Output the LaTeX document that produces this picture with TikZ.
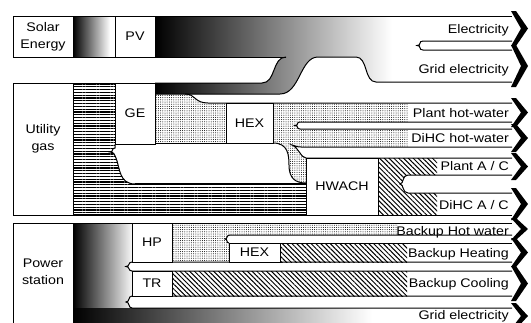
\documentclass[tikz,border=0pt]{standalone}
\usepackage{fontspec}
\setmainfont{Liberation Sans}[FakeStretch=1.14]
\usetikzlibrary{patterns.meta}
\newcommand\chevr[2]{%
  \fill (511,{#1-5}) -- (516,{#1-5}) -- (528,{(#1+#2)/2}) -- (516,{#2+5}) -- (511,{#2+5}) -- (521,{(#1+#2)/2}) -- cycle;}
\begin{document}
\begin{tikzpicture}[x=1pt,y=-1pt,
  txt/.style={font=\fontsize{12.5}{17}\selectfont, inner sep=0pt, align=center},
  box/.style={draw, fill=white, line width=1pt, inner sep=0pt, outer sep=0pt, font=\fontsize{12.5}{17}\selectfont, align=center},
  edge/.style={line width=1pt},
  heavy/.style={line width=1.7pt},
  lbl/.style={font=\fontsize{12.5}{15}\selectfont, inner sep=0pt, anchor=base east},
  stip/.style={pattern={Dots[distance=2.2pt,radius=0.5pt]}},
  hlin/.style={pattern={Lines[angle=0,distance=2.8pt,line width=1.1pt]}},
  dlin/.style={pattern={Lines[angle=-45,distance=3.4pt,line width=1pt]}}
]
\useasboundingbox (0,0) rectangle (531,322);
\fill[white] (0,0) rectangle (531,322);

% ---------- fills ----------
% solar gradient
\shade[left color=black,right color=white] (73,16) rectangle (110,57);
% PV + GE electricity gradient
\begin{scope}
\clip (155,16) -- (512,16) -- (512,41) -- (423,41) -- (423,50) -- (512,50) -- (512,82) -- (376,82) .. controls (364,82) and (368,57) .. (356,57) -- (318,57) .. controls (300,57) and (300,94) .. (280,94) -- (155,94) -- (155,83) -- (262,83) .. controls (276,83) and (272,57) .. (286,57) -- (155,57) -- cycle;
\shade[left color=black,right color=white] (155,10) rectangle (392,100);
\end{scope}
% gas hatch
\fill[hlin] (73,83) -- (115,83) -- (115,148) .. controls (111,148) and (114,152) .. (110,152) .. controls (114,152) and (115,155) .. (116,158) .. controls (120,168) and (119,184) .. (135,184) -- (306,184) -- (306,215) -- (73,215) -- cycle;
% stipple GE -> HEX
\fill[stip] (155,94) -- (185,94) .. controls (196,94) and (194,103) .. (208,103) -- (226,103) -- (226,143) -- (155,143) -- cycle;
% stipple HEX -> hot water
\fill[stip] (273,103) -- (408,103) -- (408,122) -- (300,122) .. controls (296,122) and (299,125.5) .. (295,125.5) .. controls (299,125.5) and (296,129) .. (300,129) -- (408,129) -- (408,147) -- (301,147) .. controls (297,147) and (296,146) .. (292,145) .. controls (299,148) and (301,158) .. (306,158) -- (306,183) .. controls (295,183) and (289,178) .. (289,165) .. controls (289,155) and (288,143) .. (273,143) -- cycle;
% HWACH hatch
\fill[dlin] (378,158) -- (437,158) -- (437,175) -- (408,175) .. controls (402,175) and (404,184) .. (400,184) .. controls (404,184) and (402,193) .. (408,193) -- (437,193) -- (437,215) -- (378,215) -- cycle;
% power gradients
\begin{scope}
\clip (73,223) -- (132,223) -- (132,262) .. controls (128,262) and (130,266.5) .. (126,266.5) .. controls (130,266.5) and (128,271) .. (132,271) -- (132,296) .. controls (128,296) and (130,302) .. (126,302) .. controls (130,302) and (128,308) .. (132,308) -- (73,308) -- cycle;
\shade[left color=black,right color=white] (73,220) rectangle (134,310);
\end{scope}
\shade[left color=black,right color=white] (73,308) rectangle (372,330);
% HP stipple
\fill[stip] (172,223) -- (398,223) -- (398,235) -- (230,235) .. controls (226,235) and (228,239) .. (225,239) .. controls (228,239) and (226,243) .. (229,243) -- (229,262) -- (172,262) -- cycle;
% backup hatches
\fill[dlin] (280,243) rectangle (407,262);
\fill[dlin] (172,271) rectangle (407,296);

% ---------- lines ----------
\draw[edge] (73,16) -- (512,16);
\draw[edge] (73,57) -- (115,57);
\draw[edge] (155,57) -- (286,57);
\draw[edge] (155,83) -- (262,83) .. controls (276,83) and (272,57) .. (286,57);
\draw[edge] (512,41) -- (423,41) .. controls (418,41) and (422,45.5) .. (417,45.5) .. controls (422,45.5) and (418,50) .. (423,50) -- (512,50);
\draw[edge] (512,82) -- (376,82) .. controls (364,82) and (368,57) .. (356,57) -- (318,57) .. controls (300,57) and (300,94) .. (280,94) -- (155,94);
\draw[edge] (185,94) .. controls (196,94) and (194,103) .. (208,103) -- (512,103);
\draw[edge] (155,143) -- (226,143);
\draw[edge] (512,122) -- (300,122) .. controls (296,122) and (299,125.5) .. (295,125.5) .. controls (299,125.5) and (296,129) .. (300,129) -- (512,129);
\draw[edge] (512,147) -- (301,147) .. controls (297,147) and (296,146) .. (292,145) .. controls (299,148) and (301,158) .. (306,158) -- (512,158);
\draw[edge] (273,143) .. controls (288,143) and (289,155) .. (289,165) .. controls (289,178) and (295,183) .. (306,183);
\draw[edge] (512,175) -- (408,175) .. controls (402,175) and (404,184) .. (400,184) .. controls (404,184) and (402,193) .. (408,193) -- (512,193);
\draw[edge] (73,83) -- (115,83);
\draw[edge] (115,144) -- (115,148) .. controls (111,148) and (114,152) .. (110,152) .. controls (114,152) and (115,155) .. (116,158) .. controls (120,168) and (119,184) .. (135,184);
\draw[heavy] (135,184) -- (306,184);
\draw[heavy] (73,215) -- (306,215);
\draw[edge] (306,215) -- (512,215);
% power lines
\draw[edge] (73,223) -- (512,223);
\draw[edge] (512,235) -- (230,235) .. controls (226,235) and (228,239) .. (225,239) .. controls (228,239) and (226,243) .. (229,243);
\draw[edge] (280,243) -- (512,243);
\draw[edge] (512,262) -- (132,262) .. controls (128,262) and (130,266.5) .. (126,266.5) .. controls (130,266.5) and (128,271) .. (132,271) -- (512,271);
\draw[edge] (512,296) -- (132,296) .. controls (128,296) and (130,302) .. (126,302) .. controls (130,302) and (128,308) .. (132,308) -- (512,308);

% ---------- boxes ----------
\node[box, minimum width=60pt, minimum height=41pt] (solar) at (43,36.5) {Solar\\Energy};
\node[box, minimum width=40pt, minimum height=41pt] (pv) at (135,36.5) {PV};
\node[box, minimum width=60pt, minimum height=132pt] (gas) at (43,149) {};
\node[txt] (gaslbl) at (43,139) {Utility\\gas};
\node[box, minimum width=40pt, minimum height=61pt] (ge) at (135,113.5) {GE};
\node[box, minimum width=47pt, minimum height=40pt] (hexa) at (249.5,123) {HEX};
\node[box, minimum width=72pt, minimum height=57pt] (hwach) at (342,186.5) {HWACH};
\node[box, minimum width=60pt, minimum height=110pt] (power) at (43,278) {};
\node[txt] (powerlbl) at (43,272) {Power\\station};
\node[box, minimum width=40pt, minimum height=39pt] (hp) at (152,242.5) {HP};
\node[box, minimum width=51pt, minimum height=19pt] (hexb) at (254.5,252.5) {HEX};
\node[box, minimum width=40pt, minimum height=25pt] (tr) at (152,283.5) {TR};

% ---------- chevrons ----------
\chevr{16}{41}
\chevr{50}{82}
\chevr{103}{122}
\chevr{129}{147}
\chevr{158}{175}
\chevr{193}{215}
\chevr{223}{235}
\chevr{243}{262}
\chevr{271}{296}
\chevr{308}{324}

% ---------- labels ----------
\node[lbl] (l1) at (509,33) {Electricity};
\node[lbl] (l2) at (509,73.5) {Grid electricity};
\node[lbl] (l3) at (509,117) {Plant hot-water};
\node[lbl] (l4) at (509,142.5) {DiHC hot-water};
\node[lbl] (l5) at (509,170.5) {Plant A / C};
\node[lbl] (l6) at (509,209) {DiHC A / C};
\node[lbl] (l7) at (509,235) {Backup Hot water};
\node[lbl] (l8) at (509,257) {Backup Heating};
\node[lbl] (l9) at (509,287.5) {Backup Cooling};
\node[lbl] (l10) at (509,319) {Grid electricity};
\end{tikzpicture}
\end{document}
